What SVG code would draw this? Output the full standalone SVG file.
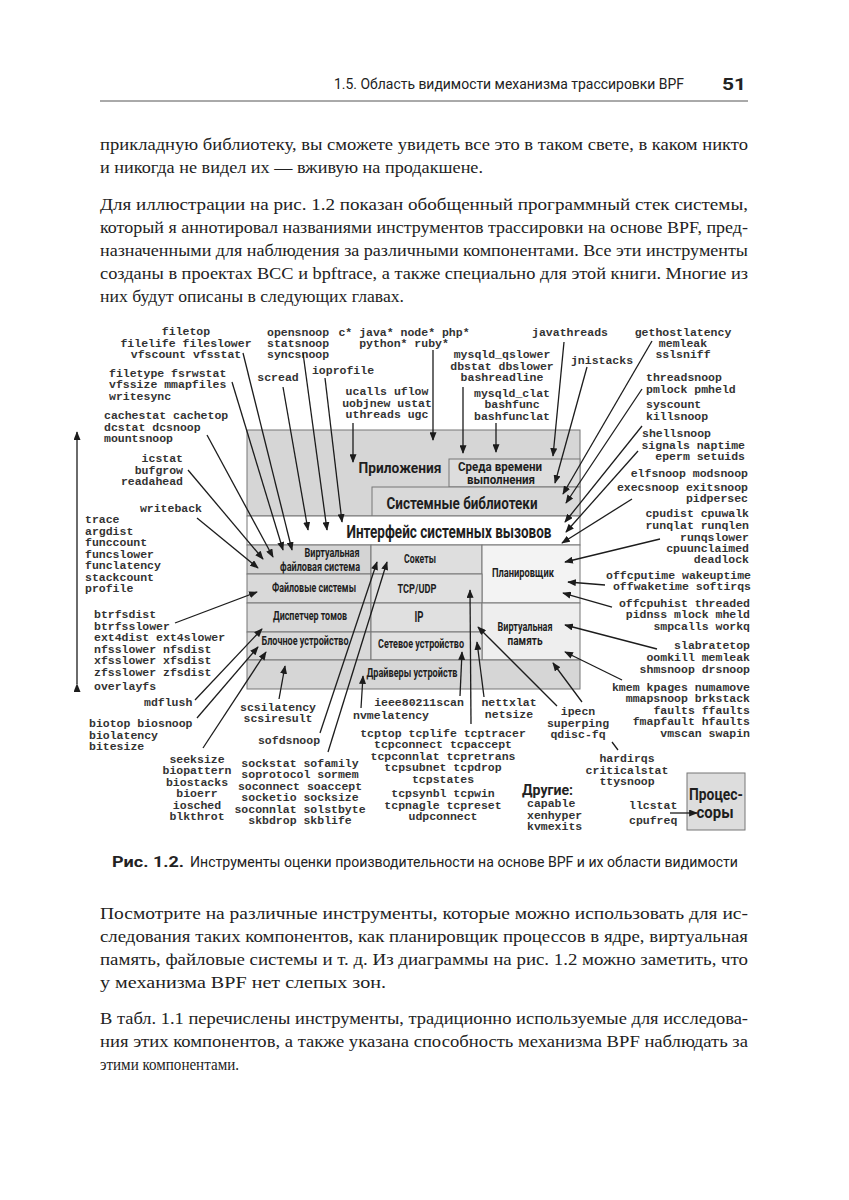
<svg xmlns="http://www.w3.org/2000/svg" width="849" height="1200" viewBox="0 0 849 1200">
<style>
.bg{fill:#fff}
.m{font-family:"Liberation Mono","DejaVu Sans Mono",monospace;font-size:11.5px;font-weight:bold;fill:#333}
.c{text-anchor:middle}
.e{text-anchor:end}
.n{font-family:"Roboto","Liberation Sans",sans-serif;font-weight:bold;fill:#1e1e1e;text-anchor:middle}
.box{stroke:#777;stroke-width:1}
.body{font-family:"Liberation Serif","DejaVu Serif",serif;font-size:16.5px;fill:#222}
.hdr{font-family:"Roboto","Liberation Sans",sans-serif;fill:#222}
.ln{stroke:#1c1c1c;stroke-width:1.3;fill:none;marker-end:url(#ah)}
</style>
<defs>
<marker id="ah" viewBox="0 0 10 8" refX="9" refY="4" markerWidth="9" markerHeight="7" markerUnits="userSpaceOnUse" orient="auto">
<path d="M0,0 L10,4 L0,8 z" fill="#1c1c1c"/>
</marker>
<marker id="as" viewBox="0 0 10 8" refX="1" refY="4" markerWidth="9" markerHeight="7" markerUnits="userSpaceOnUse" orient="auto">
<path d="M10,0 L0,4 L10,8 z" fill="#1c1c1c"/>
</marker>
</defs>
<rect class="bg" x="0" y="0" width="849" height="1200"/>

<!-- page header -->
<g id="page-header">
<text class="hdr" x="334" y="89" font-size="15" textLength="350" lengthAdjust="spacingAndGlyphs">1.5. Область видимости механизма трассировки BPF</text>
<text class="hdr" x="722" y="90" font-size="17" font-weight="bold" textLength="24" lengthAdjust="spacingAndGlyphs">51</text>
<line x1="100" y1="101" x2="748" y2="101" stroke="#555" stroke-width="1"/>
</g>

<!-- body text top -->
<g id="text-top">
<text class="body" x="100" y="150" textLength="648" lengthAdjust="spacingAndGlyphs">прикладную библиотеку, вы сможете увидеть все это в таком свете, в каком никто</text>
<text class="body" x="100" y="173" textLength="383" lengthAdjust="spacingAndGlyphs">и никогда не видел их — вживую на продакшене.</text>
<text class="body" x="100" y="210" textLength="648" lengthAdjust="spacingAndGlyphs">Для иллюстрации на рис. 1.2 показан обобщенный программный стек системы,</text>
<text class="body" x="100" y="233" textLength="648" lengthAdjust="spacingAndGlyphs">который я аннотировал названиями инструментов трассировки на основе BPF, пред-</text>
<text class="body" x="100" y="256" textLength="648" lengthAdjust="spacingAndGlyphs">назначенными для наблюдения за различными компонентами. Все эти инструменты</text>
<text class="body" x="100" y="279" textLength="648" lengthAdjust="spacingAndGlyphs">созданы в проектах BCC и bpftrace, а также специально для этой книги. Многие из</text>
<text class="body" x="100" y="302" textLength="304" lengthAdjust="spacingAndGlyphs">них будут описаны в следующих главах.</text>
</g>

<!-- stack nodes -->
<g id="n-apps"><rect class="box" x="247" y="430" width="333" height="86" fill="#d6d6d6"/>
<text class="n" x="400" y="473" font-size="15" textLength="83" lengthAdjust="spacingAndGlyphs">Приложения</text></g>
<g id="n-runtime"><rect class="box" x="449" y="459" width="131" height="28" fill="#dddddd"/>
<text class="n" x="500" y="471" font-size="13" textLength="84" lengthAdjust="spacingAndGlyphs">Среда времени</text>
<text class="n" x="501" y="484" font-size="13" textLength="68" lengthAdjust="spacingAndGlyphs">выполнения</text></g>
<g id="n-syslibs"><rect class="box" x="372" y="487" width="208" height="29" fill="#d9d9d9"/>
<text class="n" x="462" y="509" font-size="16.5" textLength="151" lengthAdjust="spacingAndGlyphs">Системные библиотеки</text></g>
<g id="n-syscall"><rect class="box" x="247" y="516" width="333" height="29" fill="#ffffff"/>
<text class="n" x="449" y="538" font-size="18" textLength="205" lengthAdjust="spacingAndGlyphs">Интерфейс системных вызовов</text></g>
<g id="n-vfs"><rect class="box" x="247" y="545" width="124" height="29" fill="#d4d4d4"/>
<text class="n" x="332" y="557" font-size="12.5" textLength="55" lengthAdjust="spacingAndGlyphs">Виртуальная</text>
<text class="n" x="320" y="571" font-size="12.5" textLength="80" lengthAdjust="spacingAndGlyphs">файловая система</text></g>
<g id="n-sockets"><rect class="box" x="371" y="545" width="111" height="29" fill="#dedede"/>
<text class="n" x="420" y="563" font-size="13" textLength="32" lengthAdjust="spacingAndGlyphs">Сокеты</text></g>
<g id="n-sched"><rect class="box" x="482" y="545" width="98" height="58" fill="#f3f3f3"/>
<text class="n" x="523" y="577" font-size="13" textLength="62" lengthAdjust="spacingAndGlyphs">Планировщик</text></g>
<g id="n-fs"><rect class="box" x="247" y="574" width="124" height="29" fill="#d9d9d9"/>
<text class="n" x="314" y="592" font-size="13" textLength="84" lengthAdjust="spacingAndGlyphs">Файловые системы</text></g>
<g id="n-tcpudp"><rect class="box" x="371" y="574" width="111" height="29" fill="#e0e0e0"/>
<text class="n" x="417" y="593" font-size="13.5" textLength="39" lengthAdjust="spacingAndGlyphs">TCP/UDP</text></g>
<g id="n-volmgr"><rect class="box" x="247" y="603" width="124" height="29" fill="#d9d9d9"/>
<text class="n" x="310" y="620" font-size="13" textLength="74" lengthAdjust="spacingAndGlyphs">Диспетчер томов</text></g>
<g id="n-ip"><rect class="box" x="371" y="603" width="111" height="29" fill="#e0e0e0"/>
<text class="n" x="419" y="622" font-size="15" textLength="9" lengthAdjust="spacingAndGlyphs">IP</text></g>
<g id="n-vm"><rect class="box" x="482" y="603" width="98" height="57" fill="#eeeeee"/>
<text class="n" x="525" y="631" font-size="13" textLength="55" lengthAdjust="spacingAndGlyphs">Виртуальная</text>
<text class="n" x="525" y="645" font-size="13" textLength="35" lengthAdjust="spacingAndGlyphs">память</text></g>
<g id="n-blockdev"><rect class="box" x="247" y="632" width="124" height="28" fill="#d9d9d9"/>
<text class="n" x="305" y="645" font-size="13" textLength="87" lengthAdjust="spacingAndGlyphs">Блочное устройство</text></g>
<g id="n-netdev"><rect class="box" x="371" y="632" width="111" height="28" fill="#e0e0e0"/>
<text class="n" x="421" y="648" font-size="13" textLength="86" lengthAdjust="spacingAndGlyphs">Сетевое устройство</text></g>
<g id="n-drivers"><rect class="box" x="247" y="660" width="333" height="29" fill="#d6d6d6"/>
<text class="n" x="412" y="677" font-size="13" textLength="91" lengthAdjust="spacingAndGlyphs">Драйверы устройств</text></g>
<g id="n-cpu"><rect class="box" x="687" y="773" width="58" height="57" fill="#dddddd"/>
<text class="n" x="716" y="800" font-size="17" textLength="54" lengthAdjust="spacingAndGlyphs">Процес-</text>
<text class="n" x="715" y="818" font-size="17" textLength="37" lengthAdjust="spacingAndGlyphs">соры</text></g>

<!-- tool labels -->
<g id="labels-top-left">
<text class="m c" x="186" y="335">filetop</text>
<text class="m c" x="186" y="347">filelife fileslower</text>
<text class="m c" x="186" y="358">vfscount vfsstat</text>
<text class="m" x="109" y="377">filetype fsrwstat</text>
<text class="m" x="109" y="388">vfssize mmapfiles</text>
<text class="m" x="109" y="400">writesync</text>
<text class="m" x="104" y="419">cachestat cachetop</text>
<text class="m" x="104" y="431">dcstat dcsnoop</text>
<text class="m" x="104" y="442">mountsnoop</text>
<text class="m e" x="183" y="462">icstat</text>
<text class="m e" x="183" y="474">bufgrow</text>
<text class="m e" x="183" y="485">readahead</text>
<text class="m e" x="202" y="512">writeback</text>
</g>
<g id="labels-left">
<text class="m" x="85" y="523">trace</text>
<text class="m" x="85" y="535">argdist</text>
<text class="m" x="85" y="546">funccount</text>
<text class="m" x="85" y="558">funcslower</text>
<text class="m" x="85" y="569">funclatency</text>
<text class="m" x="85" y="581">stackcount</text>
<text class="m" x="85" y="592">profile</text>
<text class="m" x="94" y="618">btrfsdist</text>
<text class="m" x="94" y="630">btrfsslower</text>
<text class="m" x="94" y="641">ext4dist ext4slower</text>
<text class="m" x="94" y="653">nfsslower nfsdist</text>
<text class="m" x="94" y="664">xfsslower xfsdist</text>
<text class="m" x="94" y="676">zfsslower zfsdist</text>
<text class="m" x="94" y="690">overlayfs</text>
</g>
<g id="labels-bottom-left">
<text class="m" x="144" y="706">mdflush</text>
<text class="m" x="89" y="727">biotop biosnoop</text>
<text class="m" x="89" y="739">biolatency</text>
<text class="m" x="89" y="750">bitesize</text>
<text class="m c" x="197" y="763">seeksize</text>
<text class="m c" x="197" y="774">biopattern</text>
<text class="m c" x="197" y="786">biostacks</text>
<text class="m c" x="197" y="797">bioerr</text>
<text class="m c" x="197" y="809">iosched</text>
<text class="m c" x="197" y="820">blkthrot</text>
<text class="m c" x="278" y="711">scsilatency</text>
<text class="m c" x="278" y="722">scsiresult</text>
<text class="m c" x="289" y="744">sofdsnoop</text>
<text class="m c" x="300" y="767">sockstat sofamily</text>
<text class="m c" x="300" y="778">soprotocol sormem</text>
<text class="m c" x="300" y="790">soconnect soaccept</text>
<text class="m c" x="300" y="801">socketio socksize</text>
<text class="m c" x="300" y="813">soconnlat solstbyte</text>
<text class="m c" x="300" y="824">skbdrop skblife</text>
</g>
<g id="labels-bottom-mid">
<text class="m c" x="419" y="706">ieee80211scan</text>
<text class="m c" x="391" y="719">nvmelatency</text>
<text class="m c" x="509" y="706">nettxlat</text>
<text class="m c" x="509" y="718">netsize</text>
<text class="m c" x="578" y="715">ipecn</text>
<text class="m c" x="578" y="727">superping</text>
<text class="m c" x="578" y="738">qdisc-fq</text>
<text class="m c" x="443" y="737">tcptop tcplife tcptracer</text>
<text class="m c" x="443" y="748">tcpconnect tcpaccept</text>
<text class="m c" x="443" y="760">tcpconnlat tcpretrans</text>
<text class="m c" x="443" y="771">tcpsubnet tcpdrop</text>
<text class="m c" x="443" y="783">tcpstates</text>
<text class="m c" x="443" y="797">tcpsynbl tcpwin</text>
<text class="m c" x="443" y="809">tcpnagle tcpreset</text>
<text class="m c" x="443" y="820">udpconnect</text>
<text class="hdr" x="522" y="795" font-size="15" font-weight="bold" textLength="51" lengthAdjust="spacingAndGlyphs">Другие:</text>
<text class="m" x="527" y="807">capable</text>
<text class="m" x="527" y="819">xenhyper</text>
<text class="m" x="527" y="830">kvmexits</text>
</g>
<g id="labels-bottom-right">
<text class="m c" x="627" y="762">hardirqs</text>
<text class="m c" x="627" y="774">criticalstat</text>
<text class="m c" x="627" y="785">ttysnoop</text>
<text class="m" x="629" y="809">llcstat</text>
<text class="m" x="629" y="824">cpufreq</text>
<text class="m e" x="750" y="691">kmem kpages numamove</text>
<text class="m e" x="750" y="702">mmapsnoop brkstack</text>
<text class="m e" x="750" y="714">faults ffaults</text>
<text class="m e" x="750" y="725">fmapfault hfaults</text>
<text class="m e" x="750" y="737">vmscan swapin</text>
</g>
<g id="labels-right">
<text class="m e" x="748" y="477">elfsnoop modsnoop</text>
<text class="m e" x="748" y="491">execsnoop exitsnoop</text>
<text class="m e" x="748" y="502">pidpersec</text>
<text class="m e" x="749" y="517">cpudist cpuwalk</text>
<text class="m e" x="749" y="529">runqlat runqlen</text>
<text class="m e" x="749" y="541">runqslower</text>
<text class="m e" x="749" y="552">cpuunclaimed</text>
<text class="m e" x="749" y="563">deadlock</text>
<text class="m e" x="751" y="579">offcputime wakeuptime</text>
<text class="m e" x="751" y="590">offwaketime softirqs</text>
<text class="m e" x="750" y="607">offcpuhist threaded</text>
<text class="m e" x="750" y="618">pidnss mlock mheld</text>
<text class="m e" x="750" y="630">smpcalls workq</text>
<text class="m e" x="750" y="649">slabratetop</text>
<text class="m e" x="750" y="661">oomkill memleak</text>
<text class="m e" x="750" y="673">shmsnoop drsnoop</text>
</g>
<g id="labels-top-right">
<text class="m c" x="570" y="336">javathreads</text>
<text class="m c" x="602" y="364">jnistacks</text>
<text class="m c" x="683" y="336">gethostlatency</text>
<text class="m c" x="683" y="347">memleak</text>
<text class="m c" x="683" y="358">sslsniff</text>
<text class="m" x="646" y="381">threadsnoop</text>
<text class="m" x="646" y="393">pmlock pmheld</text>
<text class="m" x="646" y="408">syscount</text>
<text class="m" x="646" y="420">killsnoop</text>
<text class="m" x="642" y="437">shellsnoop</text>
<text class="m e" x="745" y="449">signals naptime</text>
<text class="m e" x="745" y="460">eperm setuids</text>
</g>
<g id="labels-top-mid">
<text class="m" x="267" y="336">opensnoop</text>
<text class="m" x="267" y="347">statsnoop</text>
<text class="m" x="267" y="358">syncsnoop</text>
<text class="m c" x="404" y="336">c* java* node* php*</text>
<text class="m c" x="404" y="347">python* ruby*</text>
<text class="m c" x="278" y="381">scread</text>
<text class="m c" x="343" y="374">ioprofile</text>
<text class="m c" x="387" y="395">ucalls uflow</text>
<text class="m c" x="387" y="407">uobjnew ustat</text>
<text class="m c" x="387" y="418">uthreads ugc</text>
<text class="m c" x="502" y="358">mysqld_qslower</text>
<text class="m c" x="502" y="370">dbstat dbslower</text>
<text class="m c" x="502" y="381">bashreadline</text>
<text class="m c" x="512" y="397">mysqld_clat</text>
<text class="m c" x="512" y="408">bashfunc</text>
<text class="m c" x="512" y="420">bashfunclat</text>
</g>

<!-- connectors -->
<g id="connectors">
<line class="ln" x1="243" y1="353" x2="292" y2="550"/>
<line class="ln" x1="232" y1="382" x2="283" y2="550"/>
<line class="ln" x1="207" y1="435" x2="273" y2="557"/>
<line class="ln" x1="188" y1="470" x2="263" y2="559"/>
<line class="ln" x1="197" y1="518" x2="258" y2="568"/>
<line class="ln" x1="175" y1="623" x2="257" y2="592"/>
<line class="ln" x1="195" y1="700" x2="262" y2="629"/>
<line class="ln" x1="197" y1="718" x2="258" y2="647"/>
<line class="ln" x1="203" y1="748" x2="266" y2="652"/>
<line class="ln" x1="279" y1="699" x2="285" y2="666"/>
<line class="ln" x1="320" y1="733" x2="377" y2="562"/>
<line class="ln" x1="328" y1="752" x2="387" y2="562"/>
<line class="ln" x1="361" y1="708" x2="363" y2="676"/>
<line class="ln" x1="460" y1="696" x2="462" y2="652"/>
<line class="ln" x1="471" y1="724" x2="470" y2="590"/>
<line class="ln" x1="484" y1="697" x2="477" y2="642"/>
<line class="ln" x1="557" y1="706" x2="478" y2="627"/>
<path class="ln" d="M618,750 L612,742 M582,702 L553,663"/>
<line class="ln" x1="622" y1="680" x2="565" y2="652"/>
<line class="ln" x1="657" y1="649" x2="565" y2="625"/>
<line class="ln" x1="612" y1="607" x2="563" y2="593"/>
<line class="ln" x1="605" y1="585" x2="568" y2="582"/>
<line class="ln" x1="660" y1="539" x2="565" y2="562"/>
<line class="ln" x1="632" y1="499" x2="562" y2="543"/>
<line class="ln" x1="638" y1="451" x2="566" y2="532"/>
<line class="ln" x1="642" y1="426" x2="565" y2="522"/>
<line class="ln" x1="642" y1="389" x2="566" y2="503"/>
<line class="ln" x1="652" y1="341" x2="563" y2="494"/>
<line class="ln" x1="587" y1="367" x2="555" y2="483"/>
<line class="ln" x1="564" y1="342" x2="553" y2="456"/>
<line class="ln" x1="496" y1="423" x2="496" y2="452"/>
<line class="ln" x1="463" y1="387" x2="463" y2="453"/>
<line class="ln" x1="433" y1="350" x2="433" y2="440"/>
<line class="ln" x1="353" y1="423" x2="353" y2="462"/>
<line class="ln" x1="325" y1="378" x2="342" y2="522"/>
<line class="ln" x1="303" y1="353" x2="327" y2="530"/>
<line class="ln" x1="283" y1="387" x2="308" y2="530"/>
<line class="ln" x1="670" y1="813" x2="697" y2="813"/>
<line class="ln" x1="77" y1="684" x2="77" y2="432" marker-start="url(#ah)"/>
</g>

<!-- caption -->
<g id="caption">
<text class="hdr" x="112" y="867" font-size="14.5" font-weight="bold" textLength="72" lengthAdjust="spacingAndGlyphs">Рис. 1.2.</text>
<text class="hdr" x="190" y="867" font-size="14.5" textLength="548" lengthAdjust="spacingAndGlyphs">Инструменты оценки производительности на основе BPF и их области видимости</text>
</g>

<!-- body text bottom -->
<g id="text-bottom">
<text class="body" x="100" y="919" textLength="648" lengthAdjust="spacingAndGlyphs">Посмотрите на различные инструменты, которые можно использовать для ис-</text>
<text class="body" x="100" y="942" textLength="648" lengthAdjust="spacingAndGlyphs">следования таких компонентов, как планировщик процессов в ядре, виртуальная</text>
<text class="body" x="100" y="965" textLength="648" lengthAdjust="spacingAndGlyphs">память, файловые системы и т. д. Из диаграммы на рис. 1.2 можно заметить, что</text>
<text class="body" x="100" y="988" textLength="286" lengthAdjust="spacingAndGlyphs">у механизма BPF нет слепых зон.</text>
<text class="body" x="100" y="1024" textLength="648" lengthAdjust="spacingAndGlyphs">В табл. 1.1 перечислены инструменты, традиционно используемые для исследова-</text>
<text class="body" x="100" y="1047" textLength="648" lengthAdjust="spacingAndGlyphs">ния этих компонентов, а также указана способность механизма BPF наблюдать за</text>
<text class="body" x="100" y="1070" textLength="139" lengthAdjust="spacingAndGlyphs">этими компонентами.</text>
</g>
</svg>
